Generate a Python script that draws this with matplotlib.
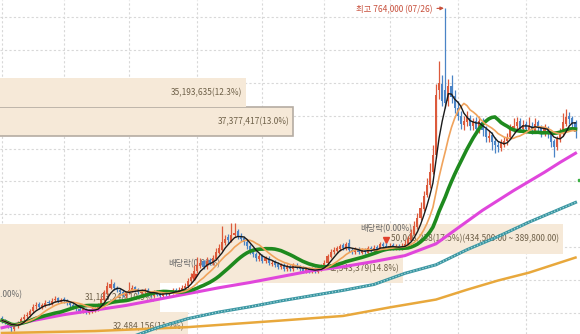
import numpy as np
import pandas as pd
import matplotlib.pyplot as plt

plt.rcParams['font.family'] = ['Noto Sans CJK KR', 'DejaVu Sans']

# 일봉 시가/고가/저가/종가 (단위: 천원)
opens = [292, 289, 286, 281, 275, 279, 286, 290, 295, 296,
         302, 310, 313, 307, 311, 317, 313, 319, 322, 316,
         321, 319, 316, 311, 310, 305, 302, 305, 300, 302,
         304, 305, 311, 320, 330, 338, 344, 338, 335, 332,
         326, 330, 333, 339, 336, 330, 331, 335, 330, 326,
         332, 328, 325, 332, 328, 331, 335, 331, 334, 337,
         340, 348, 354, 363, 371, 378, 369, 380, 375, 382,
         391, 396, 406, 415, 409, 418, 424, 417, 414, 408,
         402, 396, 390, 382, 387, 378, 384, 374, 377, 374,
         369, 373, 366, 371, 366, 373, 370, 368, 363, 368,
         363, 367, 362, 366, 369, 375, 385, 393, 394, 397,
         403, 397, 406, 396, 392, 397, 391, 396, 391, 399,
         394, 400, 395, 405, 402, 398, 403, 397, 402, 398,
         401, 404, 411, 420, 430, 444, 458, 480, 494, 515,
         540, 640, 648, 640, 622, 645, 630, 612, 600, 586,
         590, 597, 584, 592, 578, 590, 580, 566, 571, 562,
         556, 551, 556, 561, 567, 579, 584, 592, 580, 588,
         578, 585, 577, 590, 583, 574, 581, 573, 561, 553,
         564, 574, 588, 600, 596, 590]
highs = [295, 291, 288, 283, 282, 287, 294, 298, 301, 306,
         313, 316, 316, 315, 319, 320, 322, 325, 324, 323,
         324, 321, 318, 314, 312, 308, 308, 307, 306, 308,
         309, 315, 324, 335, 346, 352, 347, 341, 338, 334,
         333, 346, 342, 341, 338, 336, 338, 337, 332, 334,
         334, 331, 334, 335, 335, 338, 338, 339, 342, 345,
         353, 361, 372, 385, 384, 381, 385, 383, 388, 398,
         405, 432, 418, 420, 437, 436, 428, 421, 417, 411,
         405, 399, 393, 391, 389, 387, 386, 380, 380, 377,
         376, 375, 374, 374, 376, 376, 373, 371, 370, 370,
         369, 369, 371, 374, 380, 390, 397, 400, 402, 405,
         406, 408, 412, 399, 400, 400, 399, 399, 402, 402,
         403, 403, 408, 408, 406, 406, 406, 405, 405, 406,
         410, 417, 428, 440, 452, 468, 485, 505, 528, 556,
         648, 684, 662, 764, 656, 662, 640, 622, 608, 600,
         608, 602, 596, 598, 600, 596, 585, 578, 576, 568,
         562, 564, 568, 574, 588, 596, 598, 596, 594, 592,
         598, 590, 596, 594, 586, 588, 584, 576, 564, 570,
         582, 604, 610, 606, 600, 594]
lows = [285, 282, 277, 270, 272, 277, 284, 288, 292, 294,
        300, 306, 305, 305, 309, 311, 311, 316, 314, 314,
        315, 312, 309, 306, 303, 300, 300, 298, 298, 300,
        301, 303, 309, 318, 327, 336, 334, 331, 328, 324,
        323, 328, 331, 332, 328, 327, 329, 326, 324, 324,
        325, 322, 323, 326, 326, 329, 329, 329, 332, 335,
        338, 345, 351, 360, 368, 366, 367, 372, 373, 380,
        389, 394, 403, 405, 407, 415, 412, 409, 403, 397,
        390, 385, 379, 379, 375, 376, 372, 371, 369, 366,
        366, 364, 364, 364, 364, 366, 364, 361, 361, 361,
        360, 360, 360, 364, 367, 373, 383, 390, 391, 394,
        395, 395, 393, 390, 390, 389, 389, 389, 389, 392,
        392, 393, 393, 398, 396, 396, 395, 395, 396, 396,
        399, 402, 409, 418, 428, 441, 455, 476, 490, 512,
        535, 625, 615, 612, 615, 620, 605, 594, 580, 578,
        585, 578, 578, 572, 574, 570, 560, 560, 548, 543,
        545, 546, 552, 556, 564, 575, 580, 578, 576, 575,
        574, 572, 574, 576, 568, 570, 566, 552, 538, 548,
        560, 570, 584, 588, 582, 566]
closes = [288, 285, 280, 276, 279, 285, 291, 294, 297, 303,
          309, 311, 308, 312, 315, 314, 318, 321, 317, 320,
          318, 315, 312, 309, 306, 303, 305, 301, 303, 305,
          306, 312, 321, 331, 340, 343, 337, 334, 331, 327,
          329, 334, 338, 335, 331, 332, 334, 329, 327, 331,
          327, 326, 331, 329, 332, 334, 332, 335, 338, 341,
          349, 355, 364, 372, 376, 370, 379, 376, 383, 392,
          398, 407, 413, 410, 419, 422, 416, 413, 407, 401,
          395, 389, 383, 386, 379, 383, 376, 376, 373, 370,
          372, 367, 370, 367, 372, 369, 367, 364, 367, 364,
          366, 363, 367, 370, 376, 386, 392, 395, 398, 401,
          398, 404, 395, 393, 396, 392, 395, 392, 398, 395,
          399, 396, 404, 401, 399, 402, 398, 401, 399, 402,
          405, 412, 422, 432, 445, 460, 478, 495, 515, 540,
          632, 650, 622, 620, 645, 628, 612, 600, 588, 592,
          598, 585, 590, 580, 592, 578, 568, 570, 560, 555,
          552, 558, 562, 568, 580, 585, 590, 582, 586, 580,
          584, 578, 588, 582, 575, 580, 572, 560, 552, 565,
          575, 590, 598, 595, 588, 575]

# 장기 이동평균선 (60일 / 120일 / 240일)
ma60_days = [0, 10, 20, 30, 40, 50, 60, 70, 80, 90, 100, 110, 120, 130,
             135, 140, 145, 150, 155, 160, 165, 170, 175, 180, 185]
ma60 = [277, 288, 297, 304, 311, 320, 329, 338, 346, 355, 364, 370, 378, 387,
        396, 405, 422, 439, 456, 471, 486, 500, 514, 529, 543]
ma120_days = [0, 20, 40, 50, 60, 70, 80, 90, 100, 110, 120, 130, 140, 150,
              160, 170, 180, 185]
ma120 = [214, 234, 260, 277, 291, 301, 309, 318, 326, 334, 343, 360, 373, 396,
         416, 438, 458, 468]
ma240_days = [0, 30, 60, 90, 110, 125, 140, 150, 160, 170, 185]
ma240 = [269, 272, 278, 288, 295, 308, 320, 335, 349, 361, 384]

# 가격대별 거래량 (구간 하단가, 천원)
vp_low = [255.7, 300.4, 345.1, 389.8, 568.6, 613.3]
vp_step = 44.7
vp_volume = [32484156, 31163248, 42543379, 50046238, 37377417, 35193635]
vp_pct = [11.2, 10.9, 14.8, 17.5, 13.0, 12.3]
vp_max = 3        # 최대 거래 구간
vp_current = 4    # 현재가 구간

month_starts = [0, 20, 41, 63, 84, 104, 125, 147, 169]
dividend_days = [-2, 62, 124]
dividend_text_y = [327, 375, 428]
dividend_arrow_y = [None, 354, 411]

high_day, high_price = 143, 764

n = len(closes)
days = np.arange(n)
o = np.array(opens)
c = np.array(closes)
s = pd.Series(closes)
ma5 = s.rolling(5, min_periods=1).mean()
ma10 = s.rolling(10, min_periods=1).mean()
ma20 = s.rolling(20, min_periods=1).mean()

fig = plt.figure(figsize=(5.8, 3.34), dpi=100)
xlim = (-0.65, 186.45)
ylim = (267.5, 776.5)
fs = 6.0

# 바탕 격자
ax_base = fig.add_axes([0, 0, 1, 1])
ax_base.set_xlim(xlim)
ax_base.set_ylim(ylim)
ax_base.set_xticks(month_starts)
ax_base.set_yticks(np.arange(300, 751, 50))
ax_base.tick_params(length=0, labelbottom=False, labelleft=False)
for sp in ax_base.spines.values():
    sp.set_visible(False)
ax_base.grid(True, color='#d8d8d8', linestyle=(0, (2, 2)), linewidth=0.8)

# 매물대
ax_vp = fig.add_axes([0, 0, 1, 1], sharey=ax_base)
ax_vp.patch.set_visible(False)
ax_vp.axis('off')
ax_vp.set_xlim(23.66e6, 50.85e6)
for i, (lo, vol, pct) in enumerate(zip(vp_low, vp_volume, vp_pct)):
    edge = '#b5aca2' if i == vp_current else 'none'
    ax_vp.barh(lo, vol, height=vp_step, align='edge', color='#f6e9d8',
               edgecolor=edge, linewidth=1.2)
    label = f'{vol:,}({pct:.1f}%)'
    if i == vp_max:
        label += f'({(lo + vp_step) * 1000:,.2f} ~ {lo * 1000:,.2f})'
    ax_vp.annotate(label, (vol, lo + vp_step / 2), xytext=(-2.5, 0),
                   textcoords='offset points', ha='right', va='center',
                   fontsize=fs, color='#6e6048')

# 캔들 + 이동평균
ax = fig.add_axes([0, 0, 1, 1], sharex=ax_base, sharey=ax_base)
ax.patch.set_visible(False)
ax.axis('off')

up = c >= o
colors = np.where(up, '#dc5a3c', '#4a84c6')
ax.vlines(days, lows, highs, colors=colors, linewidth=0.9, zorder=2)
body_bottom = np.minimum(o, c)
body_h = np.maximum(np.abs(c - o), 1.0)
ax.bar(days, body_h, bottom=body_bottom, width=0.66, color=colors, zorder=2)

ax.plot(ma240_days, ma240, color='#e8a83c', linewidth=1.8, zorder=3)
ax.plot(ma120_days, ma120, color='#3a96a2', linewidth=2.2, zorder=3)
ax.plot(ma120_days, ma120, color='#a6d6da', linewidth=0.9,
        linestyle=(0, (1, 1.5)), zorder=3)
ax.plot(ma60_days, ma60, color='#e046dc', linewidth=2.2, zorder=3)
ax.plot(days, ma20, color='#1e8a1e', linewidth=2.6, zorder=4)
ax.plot(days, ma10, color='#f0a35c', linewidth=1.2, zorder=4)
ax.plot(days, ma5, color='#1a1a1a', linewidth=1.0, zorder=5)

# 배당락 표시
for d, ty, ay in zip(dividend_days, dividend_text_y, dividend_arrow_y):
    ax.text(d, ty, '배당락(0.00%)', ha='center', va='center', fontsize=fs,
            color='#6a6a6a', zorder=1)
    if ay is not None:
        ax.plot(d, ay, marker='v', markersize=4, color='#e0402c', zorder=1)

# 최고가 표시
ax.annotate(f'최고 {high_price * 1000:,} (07/26)', xy=(high_day, high_price),
            xytext=(-9, -1), textcoords='offset points', ha='right',
            va='center', fontsize=fs, color='#c8503c',
            arrowprops=dict(arrowstyle='-|>', color='#c8503c', lw=0.8,
                            mutation_scale=5, shrinkA=1, shrinkB=1),
            zorder=6)

ax.plot(186.0, 502, marker='s', markersize=1.8, color='#3cb043',
        clip_on=False, zorder=6)

fig.savefig('out.png', dpi=100)
